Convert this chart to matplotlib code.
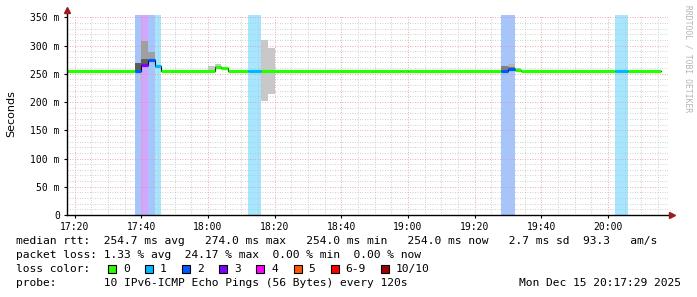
import matplotlib
matplotlib.use('Agg')
import matplotlib.pyplot as plt
from matplotlib.patches import Rectangle
from matplotlib.ticker import MultipleLocator

# time axis in minutes after 17:00
tick_pos = [20, 40, 60, 80, 100, 120, 140, 160, 180]
tick_labels = ['17:20', '17:40', '18:00', '18:20', '18:40', '19:00', '19:20', '19:40', '20:00']
y_ticks = [0, 50, 100, 150, 200, 250, 300, 350]
y_labels = ['0', '50 m', '100 m', '150 m', '200 m', '250 m', '300 m', '350 m']

# median rtt in ms, runs of 2 minute steps, with lost pings per step
med_start = [16, 38, 40, 42, 44, 46, 62, 64, 66, 72, 76, 118, 120, 148, 150, 152, 154, 182, 186]
med_end = [38, 40, 42, 44, 46, 62, 64, 66, 72, 76, 118, 120, 148, 150, 152, 154, 182, 186, 196]
med_val = [254, 254, 266, 274, 263, 254, 262, 260, 254, 254, 254, 255, 254, 254, 258, 257, 254, 254, 254]
med_loss = [0, 2, 3, 2, 1, 0, 0, 0, 0, 1, 0, 0, 0, 2, 2, 0, 0, 1, 0]

# steps with packet loss (background bands)
band_start = [38, 40, 42, 44, 72, 148, 182]
band_end = [40, 42, 44, 46, 76, 152, 186]
band_loss = [2, 3, 2, 1, 1, 2, 1]

# smoke (ping spread) per step
smoke_start = [38, 40, 40, 42, 60, 62, 76, 78, 148, 150, 150, 152]
smoke_lo = [254, 276, 266, 274, 254, 262, 201, 214, 254, 262, 258, 257]
smoke_hi = [269, 308, 276, 289, 263, 268, 310, 296, 263, 267, 262, 261]
smoke_shade = ['#5a5a5a', '#a0a0a0', '#5e5e5e', '#a0a0a0', '#c8c8c8', '#c8c8c8',
               '#c8c8c8', '#c8c8c8', '#808080', '#b4b4b4', '#808080', '#c4c4c4']

loss_names = ['0', '1', '2', '3', '4', '5', '6-9', '10/10']
loss_colors = ['#26ff00', '#00b8ff', '#0059ff', '#7e00ff', '#ff00ff', '#ff5500', '#ff0000', '#a00000']

rtt_line = 'median rtt:  254.7 ms avg   274.0 ms max   254.0 ms min   254.0 ms now   2.7 ms sd  93.3   am/s'
loss_line = 'packet loss: 1.33 % avg  24.17 % max  0.00 % min  0.00 % now'
probe_line = 'probe:       10 IPv6-ICMP Echo Pings (56 Bytes) every 120s'
stamp_text = 'Mon Dec 15 20:17:29 2025'

W, H = 697, 297
mono = 'DejaVu Sans Mono'

fig = plt.figure(figsize=(W / 100, H / 100), dpi=100)
ax = fig.add_axes([66.7 / W, 1 - 215 / H, (668 - 66.7) / W, 200 / H])

for s, e, l in zip(band_start, band_end, band_loss):
    ax.axvspan(s, e, color=loss_colors[l], alpha=0.35, lw=0, zorder=1)

for s, lo, hi, c in zip(smoke_start, smoke_lo, smoke_hi, smoke_shade):
    ax.bar(s, hi - lo, bottom=lo, width=2, align='edge', color=c, lw=0, zorder=2)

# black connectors under the coloured median
step_x = med_start + [med_end[-1]]
step_y = med_val + [med_val[-1]]
ax.step(step_x, step_y, where='post', color='black', lw=0.8, zorder=3)
for s, e, v, l in zip(med_start, med_end, med_val, med_loss):
    ax.hlines(v, s, e, colors=loss_colors[l], lw=2.3, zorder=4, capstyle='butt')

ax.set_xlim(17.66, 198.0)
ax.set_ylim(0, 354)
ax.set_xticks(tick_pos)
ax.set_xticklabels(tick_labels)
ax.set_yticks(y_ticks)
ax.set_yticklabels(y_labels)
ax.xaxis.set_minor_locator(MultipleLocator(5))
ax.yaxis.set_minor_locator(MultipleLocator(10))
ax.grid(which='minor', color='#c0c0c0', lw=0.6, ls=(0, (1, 2)), zorder=0)
ax.grid(which='major', color='#e89090', lw=0.6, ls=(0, (1, 2)), zorder=0)
ax.tick_params(which='major', length=2, width=0.8, pad=3, labelsize=7)
ax.tick_params(which='minor', length=0)
for lab in ax.get_xticklabels() + ax.get_yticklabels():
    lab.set_family(mono)

for sp in ax.spines.values():
    sp.set_visible(False)
ax.plot([0, 0], [0, 1.025], color='black', lw=1, transform=ax.transAxes, clip_on=False, zorder=5)
ax.plot([0, 1.004], [0, 0], color='black', lw=1, transform=ax.transAxes, clip_on=False, zorder=5)
ax.plot([0], [1.025], marker='^', ms=4, color='#9b1c1c', transform=ax.transAxes, clip_on=False, zorder=6)
ax.plot([1.006], [0], marker='>', ms=4, color='#9b1c1c', transform=ax.transAxes, clip_on=False, zorder=6)

fig.text(11 / W, 1 - 114 / H, 'Seconds', rotation=90, ha='center', va='center', fontsize=8)
fig.text(688 / W, 1 - 5 / H, 'RRDTOOL / TOBI OETIKER', rotation=270, ha='center', va='top',
         fontsize=5.8, family=mono, color='#b4b4b4')

fs = 8.1
def put(x, y, s, ha='left'):
    fig.text(x / W, 1 - y / H, s, ha=ha, va='center', fontsize=fs, family=mono)

put(16, 241, rtt_line)
put(16, 255, loss_line)
put(16, 269, 'loss color:')
box_x = [108, 145, 182, 219, 256, 294, 331, 381]
lab_x = [123, 160, 197, 234, 271, 308, 345, 396]
for bx, lx, name, c in zip(box_x, lab_x, loss_names, loss_colors):
    fig.add_artist(Rectangle((bx / W, 1 - 273 / H), 8 / W, 8 / H, facecolor=c,
                             edgecolor='black', lw=0.8, transform=fig.transFigure))
    put(lx, 269, name)
put(16, 283, probe_line)
put(681, 283, stamp_text, ha='right')

fig.savefig('out.png', dpi=100)
